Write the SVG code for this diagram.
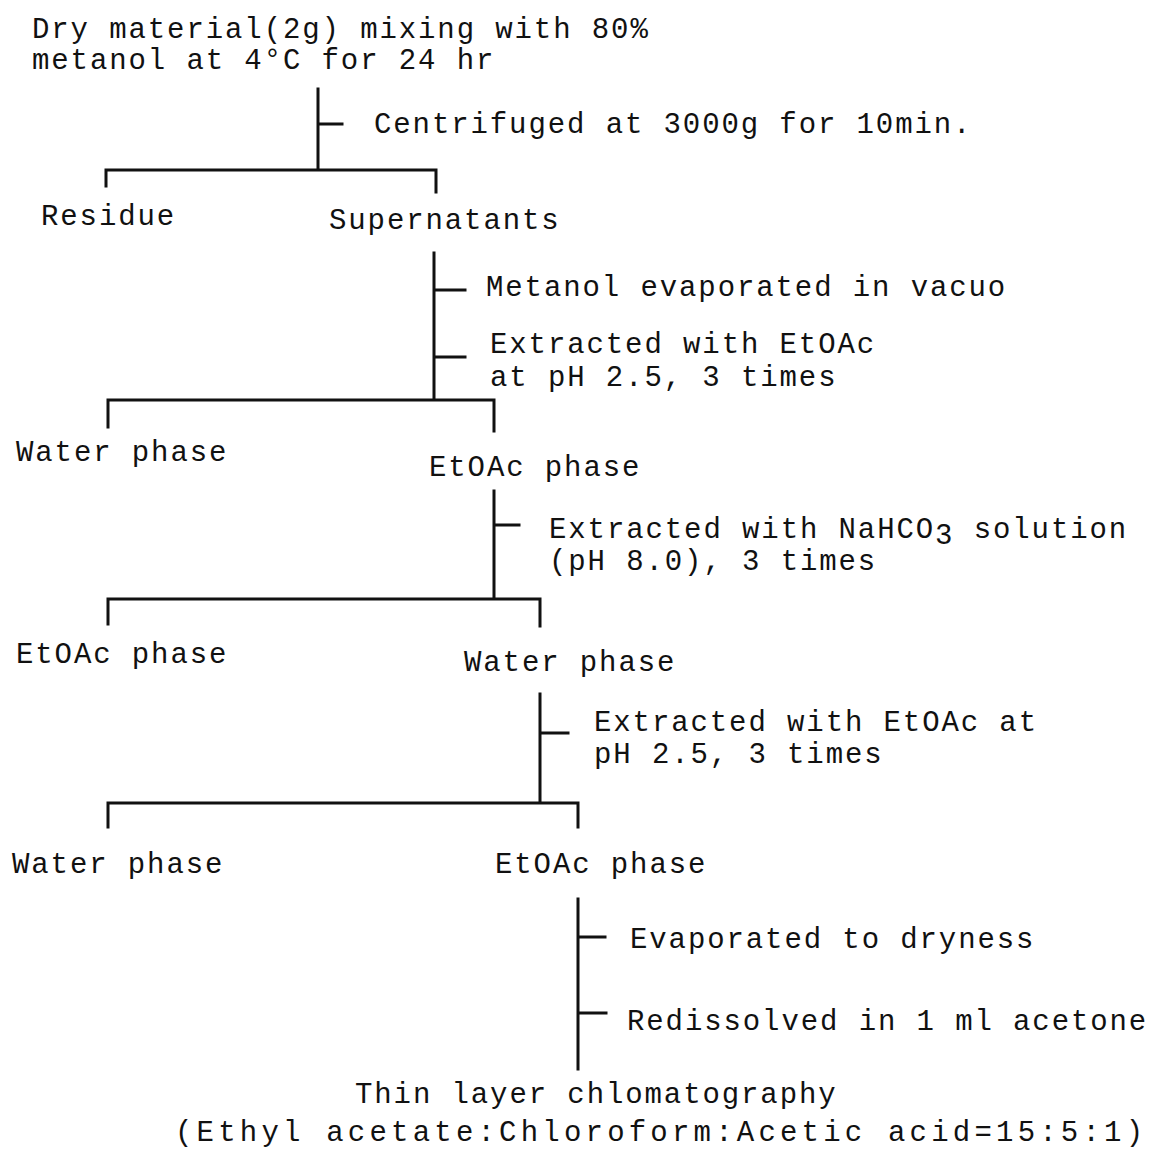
<svg xmlns="http://www.w3.org/2000/svg" width="1154" height="1154" viewBox="0 0 1154 1154">
<style>
text{font-family:"Liberation Mono","Courier New",monospace;font-size:29px;letter-spacing:1.9px;fill:#111}
.ln{stroke:#111;stroke-width:3;fill:none;stroke-linecap:square}
</style>
<rect width="1154" height="1154" fill="#fff"/>
<g id="connectors">
<path class="ln" d="M318,89 V170 M318,124 H342 M106,170 H436 M106,170 V186 M436,170 V192"/>
<path class="ln" d="M434,253 V400 M434,290 H465 M434,357 H465 M108,400 H494 M108,400 V427 M494,400 V431"/>
<path class="ln" d="M494,491 V599 M494,525 H519 M108,599 H540 M108,599 V624 M540,599 V626"/>
<path class="ln" d="M540,694 V803 M540,733 H568 M108,803 H578 M108,803 V827 M578,803 V827"/>
<path class="ln" d="M578,899 V1069 M578,937 H605 M578,1013 H606"/>
</g>
<g id="n-start"><text x="32" y="38">Dry material(2g) mixing with 80%</text><text x="32" y="69">metanol at 4°C for 24 hr</text></g>
<g id="s-centrifuge"><text x="374" y="133">Centrifuged at 3000g for 10min.</text></g>
<g id="n-residue"><text x="41" y="225">Residue</text></g>
<g id="n-supernatants"><text x="329" y="229">Supernatants</text></g>
<g id="s-evap"><text x="486" y="296">Metanol evaporated in vacuo</text></g>
<g id="s-extract1"><text x="490" y="353">Extracted with EtOAc</text><text x="490" y="386">at pH 2.5, 3 times</text></g>
<g id="n-water1"><text x="16" y="461">Water phase</text></g>
<g id="n-etoac1"><text x="429" y="476">EtOAc phase</text></g>
<g id="s-extract2"><text x="549" y="538">Extracted with NaHCO<tspan dy="6">3</tspan><tspan dy="-6"> solution</tspan></text><text x="549" y="570">(pH 8.0), 3 times</text></g>
<g id="n-etoac2"><text x="16" y="663">EtOAc phase</text></g>
<g id="n-water2"><text x="464" y="671">Water phase</text></g>
<g id="s-extract3"><text x="594" y="731">Extracted with EtOAc at</text><text x="594" y="763">pH 2.5, 3 times</text></g>
<g id="n-water3"><text x="12" y="873">Water phase</text></g>
<g id="n-etoac3"><text x="495" y="873">EtOAc phase</text></g>
<g id="s-dry"><text x="630" y="948">Evaporated to dryness</text></g>
<g id="s-redissolve"><text x="627" y="1030">Redissolved in 1 ml acetone</text></g>
<g id="n-tlc"><text x="355" y="1103">Thin layer chlomatography</text><text x="175" y="1141" textLength="970" lengthAdjust="spacing">(Ethyl acetate:Chloroform:Acetic acid=15:5:1)</text></g>
</svg>
